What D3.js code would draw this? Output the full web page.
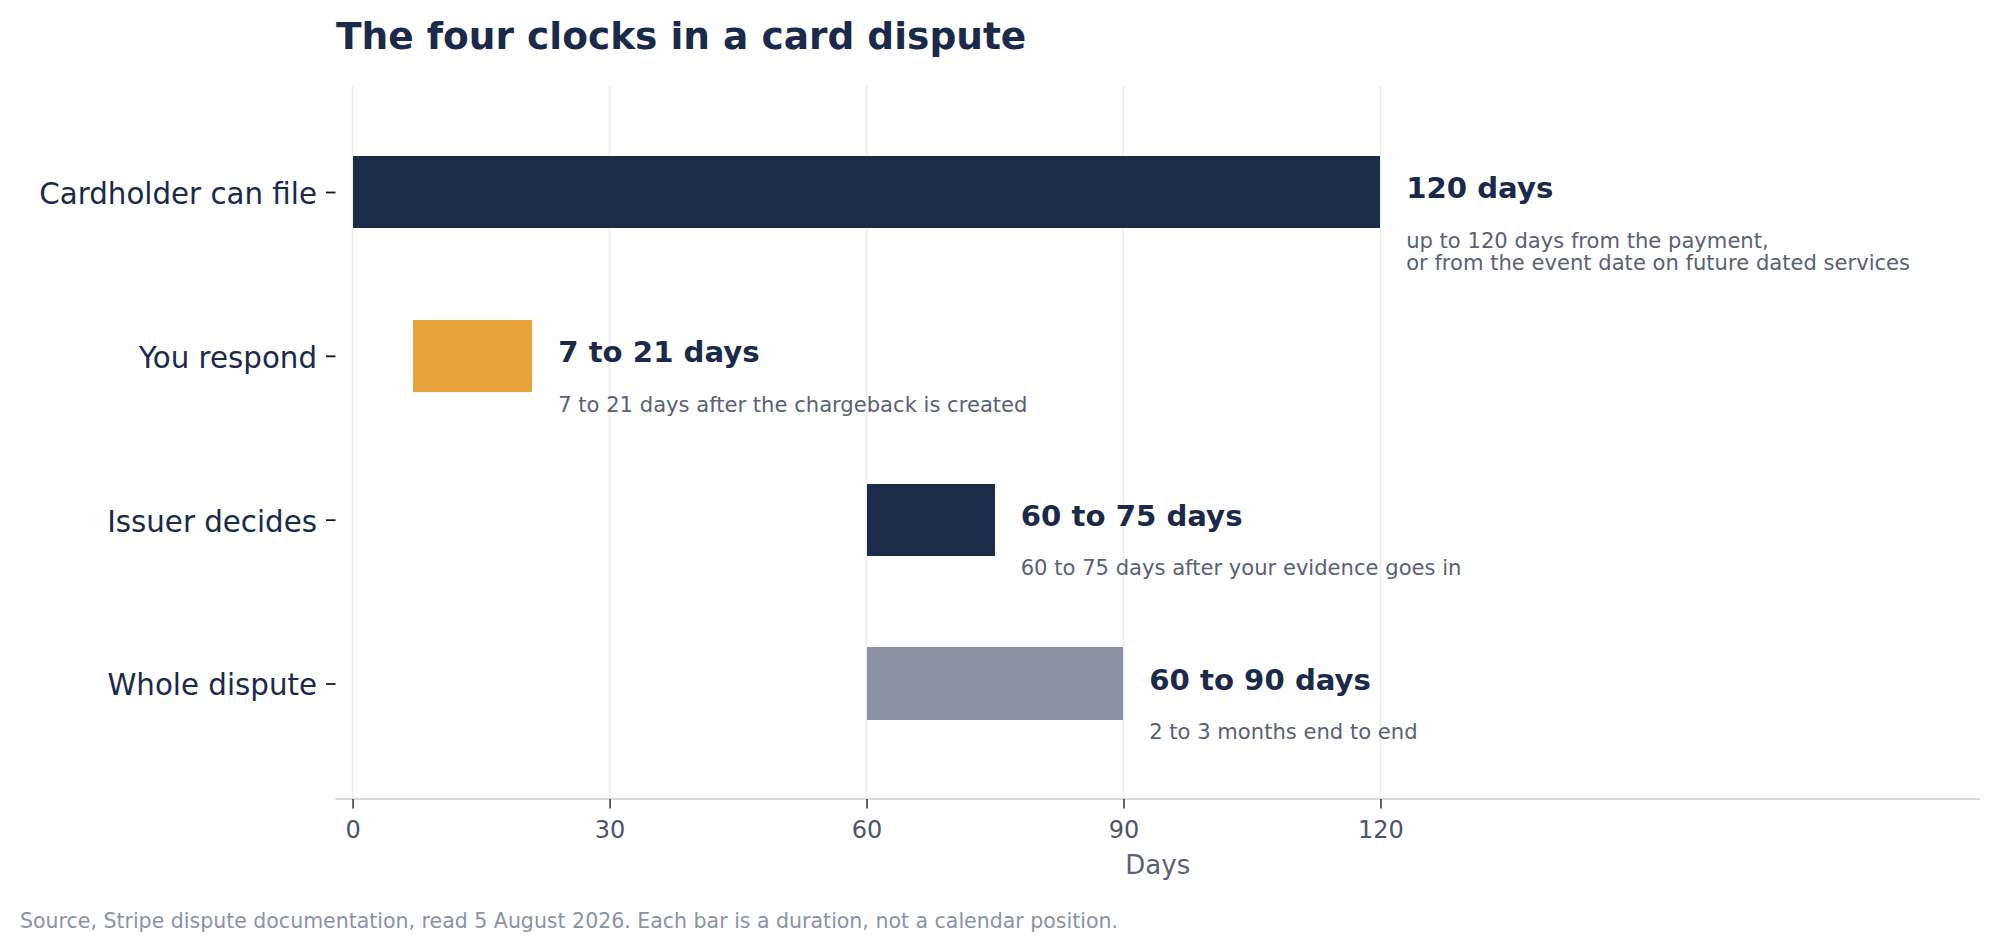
<!DOCTYPE html>
<html>
<head>
<meta charset="utf-8">
<script src="https://cdn.jsdelivr.net/npm/d3@7"></script>
<style>
  html, body { margin: 0; padding: 0; background: #ffffff; }
  svg { display: block; font-family: "DejaVu Sans", sans-serif; }
</style>
</head>
<body>
<svg id="chart" width="2000" height="952"></svg>
<script>
// ---- data ----
const categories = ["Cardholder can file", "You respond", "Issuer decides", "Whole dispute"];
const startDays = [0, 7, 60, 60];
const endDays = [120, 21, 75, 90];
const headlines = ["120 days", "7 to 21 days", "60 to 75 days", "60 to 90 days"];
const notes = [
  ["up to 120 days from the payment,", "or from the event date on future dated services"],
  ["7 to 21 days after the chargeback is created"],
  ["60 to 75 days after your evidence goes in"],
  ["2 to 3 months end to end"]
];
const xTicks = [0, 30, 60, 90, 120];
const titleText = "The four clocks in a card dispute";
const xLabel = "Days";
const footerText = "Source, Stripe dispute documentation, read 5 August 2026. Each bar is a duration, not a calendar position.";

// ---- style ----
const barColors = ["#1d2b4b", "#e8a33c", "#1d2b4b", "#8b92a1"];
const navy = "#1b2a4a";

const svg = d3.select("#chart");
svg.append("rect").attr("width", 2000).attr("height", 952).attr("fill", "#ffffff");

const plotLeft = 335.5, plotRight = 1980, plotTop = 85.5, plotBottom = 799;

const x = d3.scaleLinear().domain([-2, 190]).range([plotLeft, plotRight]);
const y = d3.scaleLinear().domain([-0.65, 3.705]).range([plotTop, plotBottom]);
const barH = 0.44 * (y(1) - y(0));

// gridlines
svg.append("g").selectAll("line").data(xTicks).join("line")
  .attr("x1", d => x(d)).attr("x2", d => x(d))
  .attr("y1", plotTop).attr("y2", plotBottom)
  .attr("stroke", "#ebedf0").attr("stroke-width", 1.6);

// bars
svg.append("g").selectAll("rect").data(categories).join("rect")
  .attr("x", (d, i) => x(startDays[i]))
  .attr("width", (d, i) => x(endDays[i]) - x(startDays[i]))
  .attr("y", (d, i) => y(i) - barH / 2)
  .attr("height", barH)
  .attr("fill", (d, i) => barColors[i])
  .attr("shape-rendering", "crispEdges");

// bottom spine
svg.append("line")
  .attr("x1", plotLeft).attr("x2", plotRight)
  .attr("y1", plotBottom).attr("y2", plotBottom)
  .attr("stroke", "#d5d9e0").attr("stroke-width", 2);

// x axis
const xAxis = d3.axisBottom(x).tickValues(xTicks).tickSize(9.5).tickPadding(8).tickFormat(d3.format("d"));
const gx = svg.append("g").attr("transform", `translate(0,${plotBottom})`).call(xAxis);
gx.select(".domain").remove();
gx.selectAll(".tick line").attr("stroke", "#4a5263").attr("stroke-width", 1.8);
gx.selectAll(".tick text")
  .attr("font-family", "DejaVu Sans").attr("font-size", 24).attr("fill", "#4d5566")
  .attr("dy", null).attr("y", 39.2);

// y axis
const yAxis = d3.axisLeft(y).tickValues(d3.range(categories.length)).tickSize(9.5).tickPadding(10)
  .tickFormat(i => categories[i]);
const gy = svg.append("g").attr("transform", `translate(${plotLeft},0)`).call(yAxis);
gy.select(".domain").remove();
gy.selectAll(".tick line").attr("stroke", "#111827").attr("stroke-width", 1.8);
gy.selectAll(".tick text")
  .attr("font-family", "DejaVu Sans").attr("font-size", 29.3).attr("fill", navy)
  .attr("dy", null).attr("y", 11.4).attr("x", -18.5);

// headline labels
svg.append("g").selectAll("text").data(headlines).join("text")
  .attr("x", (d, i) => x(endDays[i] + 3))
  .attr("y", (d, i) => y(i) + 6.3)
  .attr("font-size", 29.2).attr("font-weight", "bold").attr("fill", navy)
  .text(d => d);

// notes
const noteG = svg.append("g");
notes.forEach((lines, i) => {
  const t = noteG.append("text")
    .attr("x", x(endDays[i] + 3))
    .attr("y", y(i) + 55.8)
    .attr("font-size", 21.1).attr("fill", "#5a6272");
  lines.forEach((ln, j) => {
    t.append("tspan").attr("x", x(endDays[i] + 3)).attr("dy", j === 0 ? 0 : 22).text(ln);
  });
});

// title
svg.append("text").attr("x", 336).attr("y", 48.8)
  .attr("font-size", 37.5).attr("font-weight", "bold").attr("fill", navy)
  .text(titleText);

// x label
svg.append("text").attr("x", (plotLeft + plotRight) / 2).attr("y", 874)
  .attr("text-anchor", "middle").attr("font-size", 26).attr("fill", "#5a6272")
  .text(xLabel);

// footer
svg.append("text").attr("x", 20).attr("y", 928.3)
  .attr("font-size", 20.5).attr("fill", "#8a93a5")
  .text(footerText);
</script>
</body>
</html>
